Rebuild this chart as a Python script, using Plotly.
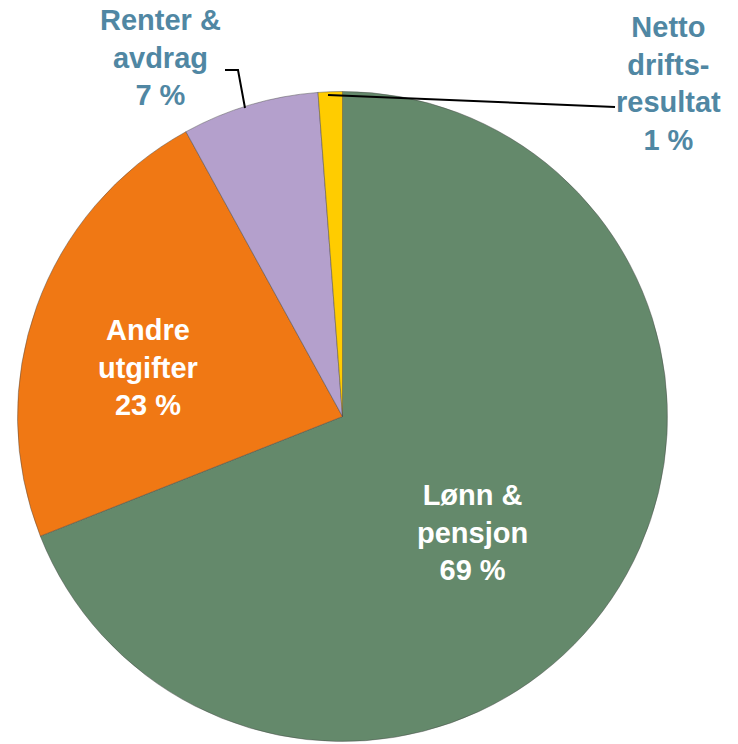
import plotly.graph_objects as go

categories = ["Lønn &<br>pensjon", "Andre<br>utgifter", "Renter &<br>avdrag", "Netto<br>drifts-<br>resultat"]
values = [69.0, 23.0, 6.8, 1.2]
pct_labels = ["69 %", "23 %", "7 %", "1 %"]
colors = ["#64896B", "#F07814", "#B4A0CC", "#FFCC00"]

W, H = 738, 744
OFF = 8  # page body margin offset
cx, cy, r = 342.5 - OFF, 416.5 - OFF, 325

fig = go.Figure(go.Pie(
    labels=categories, values=values, sort=False, direction="clockwise", rotation=0,
    marker=dict(colors=colors, line=dict(color="rgba(70,70,70,0.45)", width=1)),
    textinfo="none", hoverinfo="label+percent", showlegend=False,
    domain=dict(x=[(cx - r) / W, (cx + r) / W], y=[1 - (cy + r) / H, 1 - (cy - r) / H]),
))

def P(x, y):
    return (x - OFF) / W, 1 - (y - OFF) / H

label_pos = [(472, 532, "white"), (148, 367, "white"), (160, 58, "#5087A3"), (668, 83, "#5087A3")]
for cat, pct, (x, y, col) in zip(categories, pct_labels, label_pos):
    px, py = P(x, y)
    fig.add_annotation(x=px, y=py, xref="paper", yref="paper",
                       text=f"<b>{cat}<br>{pct}</b>", showarrow=False,
                       font=dict(family="Liberation Sans, Arial", size=29, color=col),
                       xanchor="center", yanchor="middle", align="center", borderpad=0)

# leader lines
x0, y0 = P(245, 108); x1, y1 = P(238, 70); x2, y2 = P(225, 70)
fig.add_shape(type="path", xref="paper", yref="paper",
              path=f"M {x0} {y0} L {x1} {y1} L {x2} {y2}", line=dict(color="black", width=2))
a0, b0 = P(328, 95); a1, b1 = P(615, 107)
fig.add_shape(type="line", xref="paper", yref="paper", x0=a0, y0=b0, x1=a1, y1=b1,
              line=dict(color="black", width=2))

fig.update_layout(width=W, height=H, margin=dict(l=0, r=0, t=0, b=0),
                  paper_bgcolor="white", plot_bgcolor="white")
fig.write_html("out.html")
